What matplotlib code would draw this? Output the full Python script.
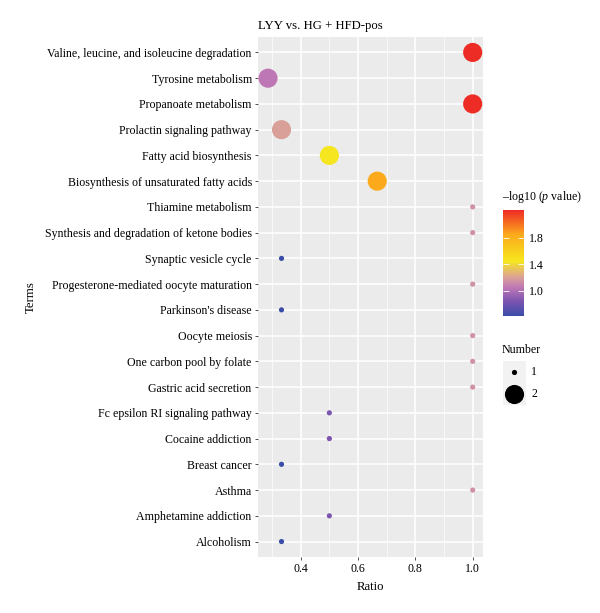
import numpy as np
import matplotlib.pyplot as plt
from matplotlib.colors import LinearSegmentedColormap, Normalize
from matplotlib.cm import ScalarMappable
from matplotlib.patches import Rectangle

plt.rcParams['font.family'] = ['Liberation Serif', 'DejaVu Serif']
plt.rcParams['mathtext.fontset'] = 'custom'
plt.rcParams['mathtext.rm'] = 'Liberation Serif'
plt.rcParams['mathtext.it'] = 'Liberation Serif:italic'

# data, top to bottom
terms = [
    "Valine, leucine, and isoleucine degradation",
    "Tyrosine metabolism",
    "Propanoate metabolism",
    "Prolactin signaling pathway",
    "Fatty acid biosynthesis",
    "Biosynthesis of unsaturated fatty acids",
    "Thiamine metabolism",
    "Synthesis and degradation of ketone bodies",
    "Synaptic vesicle cycle",
    "Progesterone-mediated oocyte maturation",
    "Parkinson's disease",
    "Oocyte meiosis",
    "One carbon pool by folate",
    "Gastric acid secretion",
    "Fc epsilon RI signaling pathway",
    "Cocaine addiction",
    "Breast cancer",
    "Asthma",
    "Amphetamine addiction",
    "Alcoholism",
]
ratio = [1.0, 0.286, 1.0, 0.333, 0.5, 0.667, 1.0, 1.0, 0.333, 1.0,
         0.333, 1.0, 1.0, 1.0, 0.5, 0.5, 0.333, 1.0, 0.5, 0.333]
number = [2, 2, 2, 2, 2, 2, 1, 1, 1, 1, 1, 1, 1, 1, 1, 1, 1, 1, 1, 1]
logp = [2.21, 1.05, 2.21, 1.2, 1.45, 1.85, 1.15, 1.15, 0.62, 1.15,
        0.62, 1.15, 1.15, 1.15, 0.85, 0.85, 0.62, 1.15, 0.85, 0.62]

vmin, vmax = 0.62, 2.22
stops = [(0.62, "#3A4DA8"), (0.85, "#7E55B0"), (1.05, "#BF78B5"),
         (1.2, "#D9A098"), (1.45, "#F6E71F"), (1.85, "#FCAA1C"),
         (2.22, "#EE2A26")]
cmap = LinearSegmentedColormap.from_list(
    "pv", [((v - vmin) / (vmax - vmin), c) for v, c in stops])
norm = Normalize(vmin, vmax)

size_map = {1: 14, 2: 190}
fs = 8.6

W, H = 600, 613
fig = plt.figure(figsize=(6, 6.13), dpi=100)

def px(x0, y0, x1, y1):
    return [x0 / W, 1 - y1 / H, (x1 - x0) / W, (y1 - y0) / H]

ax = fig.add_axes(px(258, 37, 483, 557))
ax.set_facecolor("#EBEBEB")
for s in ax.spines.values():
    s.set_visible(False)

n = len(terms)
y = np.arange(n)[::-1]
ax.scatter(ratio, y, s=[size_map[k] for k in number], c=logp, cmap=cmap,
           norm=norm, linewidths=0, zorder=3)

ax.set_xlim(0.251, 1.036)
ax.set_ylim(-0.6, n - 1 + 0.6)
ax.set_yticks(y)
ax.set_yticklabels(terms, fontsize=fs)
ax.set_xticks([0.4, 0.6, 0.8, 1.0])
ax.set_xticklabels(["0.4", "0.6", "0.8", "1.0"], fontsize=fs)
ax.set_xticks([0.3, 0.5, 0.7, 0.9], minor=True)
ax.tick_params(axis="both", length=2.5, width=0.6, color="#333333", pad=2)
ax.tick_params(axis="x", which="minor", length=0)
ax.grid(True, which="major", color="white", linewidth=1.1, zorder=0)
ax.grid(True, which="minor", axis="x", color="white", linewidth=0.5, zorder=0)
ax.set_axisbelow(True)
ax.set_xlabel("Ratio", fontsize=9.2, labelpad=4)
ax.set_ylabel("Terms", fontsize=9.2, labelpad=6)
ax.set_title("LYY vs. HG + HFD-pos", fontsize=9.2, loc="left", pad=6)

# colour bar
cax = fig.add_axes(px(503, 210, 524, 316))
cb = fig.colorbar(ScalarMappable(norm=norm, cmap=cmap), cax=cax)
cb.set_ticks([1.0, 1.4, 1.8])
cb.ax.yaxis.set_ticks_position("both")
cb.ax.tick_params(labelsize=fs, length=4, color="white", width=0.6,
                  direction="in", labelright=True, labelleft=False)
cb.outline.set_visible(False)
fig.text(502 / W, 1 - 197 / H, "\u2013log10 ($\\mathit{p}$ value)",
         fontsize=fs, va="center", ha="left")

# size legend
lax = fig.add_axes(px(500, 360, 600, 410))
lax.axis("off")
lax.set_xlim(500, 600)
lax.set_ylim(410, 360)
lax.add_patch(Rectangle((503, 361), 23, 44, color="#F2F2F2", lw=0))
fig.text(502 / W, 1 - 350 / H, "Number", fontsize=fs, va="center", ha="left")
for k, yy in zip([1, 2], [372, 394]):
    lax.scatter([514], [yy], s=size_map[k], color="black", linewidths=0)
    lax.text(531, yy, str(k), fontsize=fs, va="center", ha="left")

fig.savefig("out.png", dpi=100)
